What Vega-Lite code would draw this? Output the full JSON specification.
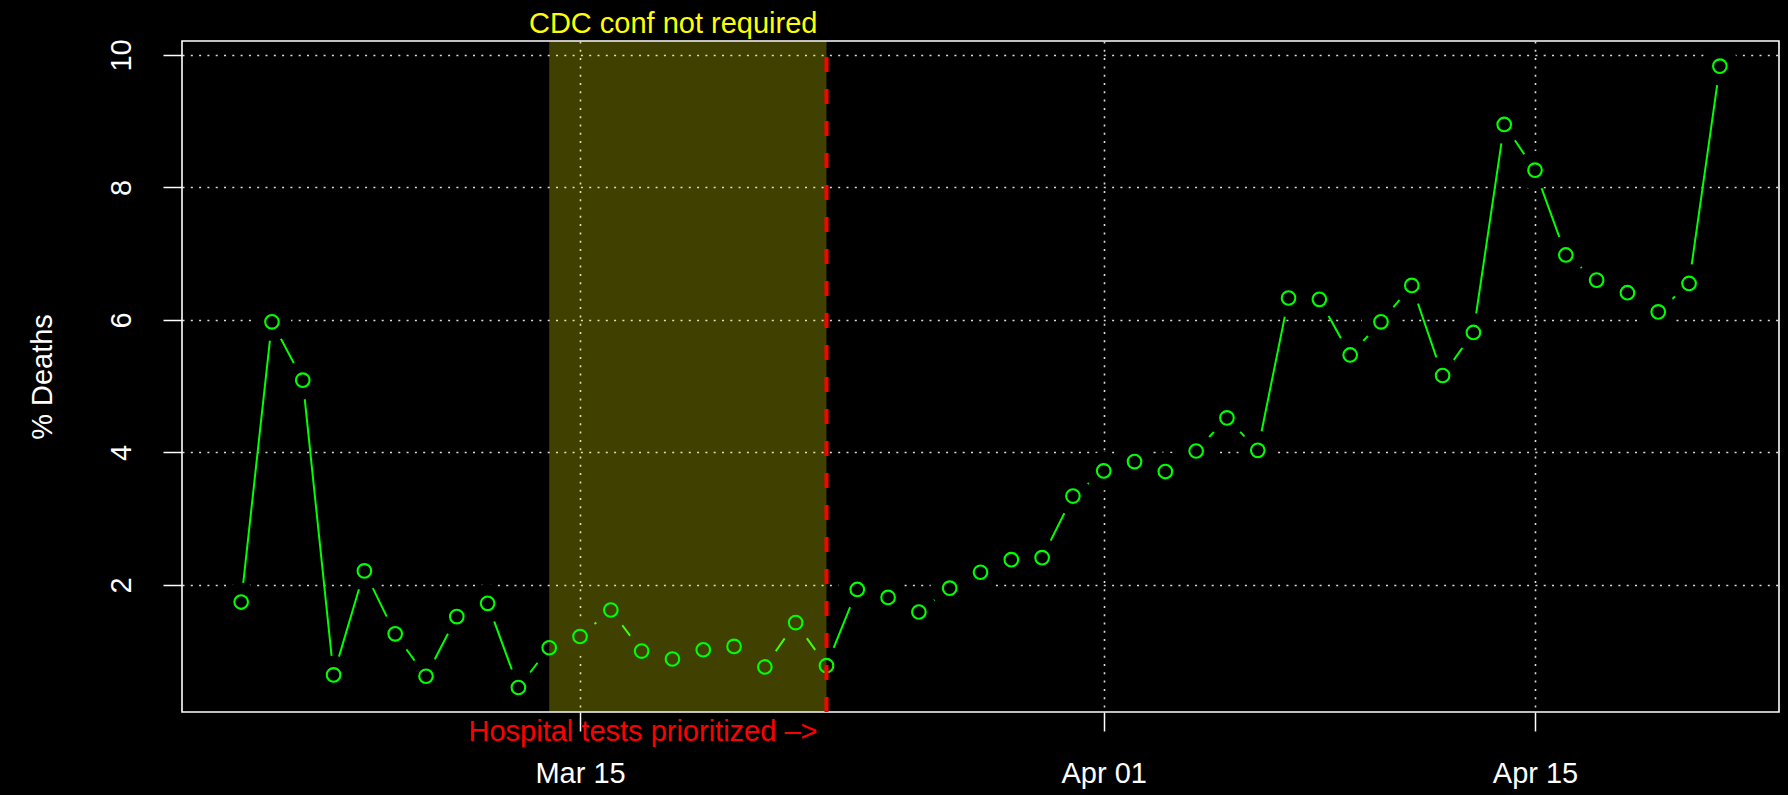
{
  "$schema": "https://vega.github.io/schema/vega-lite/v6.json",
  "autosize": {"type": "none"},
  "padding": {"left": 182, "top": 41, "right": 9, "bottom": 83},
  "width": 1597,
  "height": 671,
  "background": "#000000",
  "config": {
    "font": "Liberation Sans",
    "view": {"stroke": "#ffffff", "strokeWidth": 1.6}
  },
  "datasets": {
    "deaths": [
      {"date": "2020-03-04", "pct": 1.74},
      {"date": "2020-03-05", "pct": 5.97},
      {"date": "2020-03-06", "pct": 5.09},
      {"date": "2020-03-07", "pct": 0.64},
      {"date": "2020-03-08", "pct": 2.21},
      {"date": "2020-03-09", "pct": 1.26},
      {"date": "2020-03-10", "pct": 0.62},
      {"date": "2020-03-11", "pct": 1.52},
      {"date": "2020-03-12", "pct": 1.72},
      {"date": "2020-03-13", "pct": 0.45},
      {"date": "2020-03-14", "pct": 1.05},
      {"date": "2020-03-15", "pct": 1.22},
      {"date": "2020-03-16", "pct": 1.62},
      {"date": "2020-03-17", "pct": 1.00},
      {"date": "2020-03-18", "pct": 0.88},
      {"date": "2020-03-19", "pct": 1.02},
      {"date": "2020-03-20", "pct": 1.07},
      {"date": "2020-03-21", "pct": 0.76},
      {"date": "2020-03-22", "pct": 1.43},
      {"date": "2020-03-23", "pct": 0.78},
      {"date": "2020-03-24", "pct": 1.93},
      {"date": "2020-03-25", "pct": 1.81},
      {"date": "2020-03-26", "pct": 1.59},
      {"date": "2020-03-27", "pct": 1.95},
      {"date": "2020-03-28", "pct": 2.19},
      {"date": "2020-03-29", "pct": 2.38},
      {"date": "2020-03-30", "pct": 2.41},
      {"date": "2020-03-31", "pct": 3.34},
      {"date": "2020-04-01", "pct": 3.72},
      {"date": "2020-04-02", "pct": 3.86},
      {"date": "2020-04-03", "pct": 3.71},
      {"date": "2020-04-04", "pct": 4.02},
      {"date": "2020-04-05", "pct": 4.52},
      {"date": "2020-04-06", "pct": 4.03},
      {"date": "2020-04-07", "pct": 6.33},
      {"date": "2020-04-08", "pct": 6.31},
      {"date": "2020-04-09", "pct": 5.47},
      {"date": "2020-04-10", "pct": 5.97},
      {"date": "2020-04-11", "pct": 6.52},
      {"date": "2020-04-12", "pct": 5.16},
      {"date": "2020-04-13", "pct": 5.81},
      {"date": "2020-04-14", "pct": 8.95},
      {"date": "2020-04-15", "pct": 8.26},
      {"date": "2020-04-16", "pct": 6.98},
      {"date": "2020-04-17", "pct": 6.60},
      {"date": "2020-04-18", "pct": 6.41},
      {"date": "2020-04-19", "pct": 6.12},
      {"date": "2020-04-20", "pct": 6.55},
      {"date": "2020-04-21", "pct": 9.83}
    ],
    "shade": [
      {"start": "2020-03-14", "end": "2020-03-23", "lo": 0.08, "hi": 10.21}
    ],
    "notes": [
      {"date": "2020-03-23", "pos": 10.331, "label": "CDC conf not required", "kind": "cdc"},
      {"date": "2020-03-23", "pos": -0.36, "label": "Hospital tests prioritized \u2013>", "kind": "hosp"}
    ]
  },
  "encoding": {
    "x": {
      "field": "date",
      "type": "temporal",
      "scale": {
        "type": "utc",
        "domain": [
          {"year": 2020, "month": 3, "date": 2, "hours": 1, "minutes": 55, "utc": true},
          {"year": 2020, "month": 4, "date": 22, "hours": 22, "minutes": 5, "utc": true}
        ]
      },
      "axis": {
        "title": null,
        "values": [
          {"year": 2020, "month": 3, "date": 15, "utc": true},
          {"year": 2020, "month": 4, "date": 1, "utc": true},
          {"year": 2020, "month": 4, "date": 15, "utc": true}
        ],
        "labelExpr": "utcFormat(datum.value, '%b %d')",
        "domain": false,
        "ticks": true,
        "tickSize": 19,
        "tickColor": "#ffffff",
        "tickWidth": 1.5,
        "labelColor": "#ffffff",
        "labelFontSize": 29,
        "labelPadding": 51,
        "labelBaseline": "alphabetic",
        "labelAlign": "center",
        "labelAngle": 0,
        "labelFlush": false,
        "labelOverlap": false,
        "grid": true,
        "gridColor": "#dcdcdc",
        "gridDash": [2, 6.3],
        "gridWidth": 1.6
      }
    },
    "y": {
      "field": "pct",
      "type": "quantitative",
      "scale": {"domain": [0.08, 10.21], "nice": false, "zero": false},
      "axis": {
        "title": "% Deaths",
        "titleColor": "#ffffff",
        "titleFontSize": 29,
        "titleFontWeight": "normal",
        "titlePadding": 50,
        "values": [2, 4, 6, 8, 10],
        "domain": false,
        "tickSize": 19,
        "tickColor": "#ffffff",
        "tickWidth": 1.5,
        "labelColor": "#ffffff",
        "labelFontSize": 29,
        "labelAngle": -90,
        "labelAlign": "center",
        "labelBaseline": "alphabetic",
        "labelPadding": 33,
        "labelFlush": false,
        "labelOverlap": false,
        "grid": true,
        "gridColor": "#dcdcdc",
        "gridDash": [2, 6.3],
        "gridWidth": 1.6
      }
    }
  },
  "layer": [
    {
      "data": {"name": "deaths"},
      "mark": {"type": "line", "color": "#00ff00", "strokeWidth": 2}
    },
    {
      "data": {"name": "deaths"},
      "mark": {"type": "point", "shape": "circle", "filled": true, "color": "#000000", "opacity": 1, "size": 1480, "strokeWidth": 0}
    },
    {
      "data": {"name": "shade"},
      "mark": {"type": "rect", "color": "#ffff00", "opacity": 0.25},
      "encoding": {
        "x": {"field": "start", "type": "temporal"},
        "x2": {"field": "end"},
        "y": {"field": "lo", "type": "quantitative"},
        "y2": {"field": "hi"}
      }
    },
    {
      "data": {"name": "deaths"},
      "mark": {"type": "point", "shape": "circle", "filled": false, "color": "#00ff00", "opacity": 1, "size": 185, "strokeWidth": 2.1}
    },
    {
      "data": {"name": "shade"},
      "mark": {"type": "rule", "color": "#ff0000", "strokeWidth": 4, "strokeDash": [15, 17]},
      "encoding": {
        "x": {"field": "end", "type": "temporal"},
        "y": {"field": "lo", "type": "quantitative"},
        "y2": {"field": "hi"}
      }
    },
    {
      "data": {"name": "notes"},
      "mark": {"type": "text", "align": "right", "baseline": "alphabetic", "fontSize": 29, "dx": -9, "clip": false},
      "encoding": {
        "y": {"field": "pos", "type": "quantitative"},
        "text": {"field": "label"},
        "color": {
          "field": "kind",
          "type": "nominal",
          "scale": {"domain": ["cdc", "hosp"], "range": ["#ffff00", "#ff0000"]},
          "legend": null
        }
      }
    }
  ]
}
